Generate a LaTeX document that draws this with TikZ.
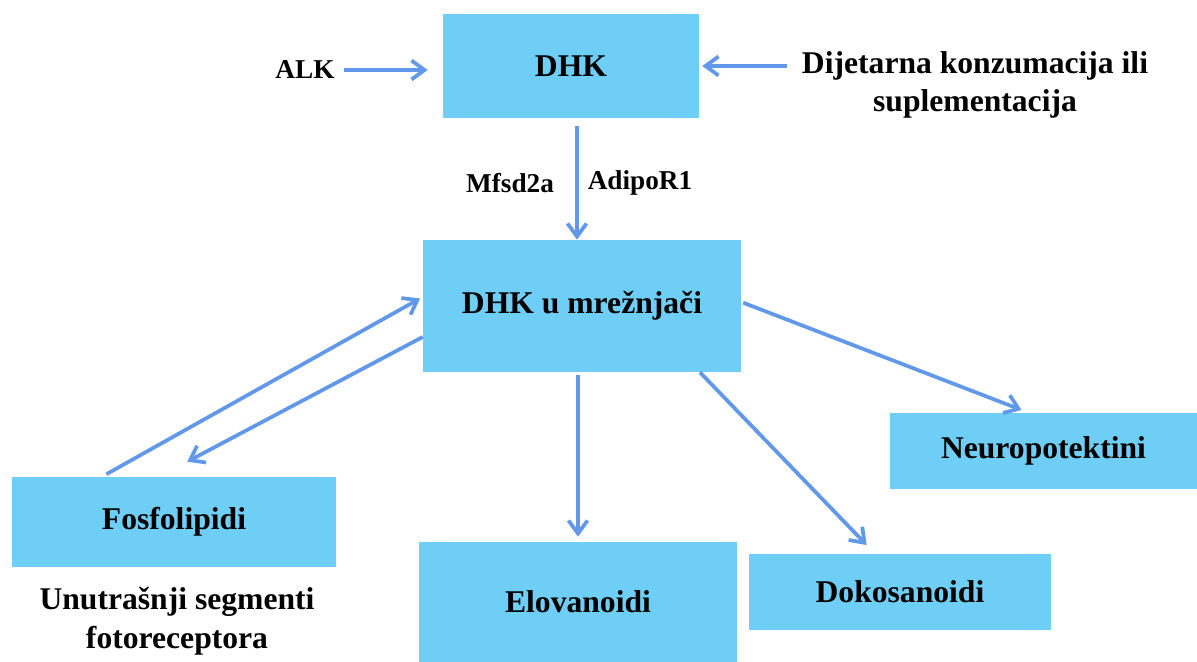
\documentclass[tikz,border=0pt]{standalone}
\usepackage{fontspec}
\setmainfont{Liberation Serif}
\usepackage{xcolor}
\usetikzlibrary{arrows.meta}

\definecolor{boxblue}{RGB}{110,206,245}
\definecolor{arrowblue}{RGB}{98,152,234}

\tikzset{
  box/.style={fill=boxblue, inner sep=0pt, font=\fontsize{18}{22}\selectfont\bfseries},
  lbl/.style={inner sep=0pt, align=center, font=\fontsize{18}{22}\selectfont\bfseries},
  small/.style={inner sep=0pt, font=\fontsize{15.5}{19}\selectfont\bfseries},
  arr/.style={-{Straight Barb[length=0.26cm, width=0.38cm]}, arrowblue, line width=0.075cm}
}

\begin{document}
\begin{tikzpicture}[x=0.02cm, y=-0.02cm]
  \useasboundingbox (0,0) rectangle (1197,662);
  % boxes
  \node[box, minimum width=5.12cm, minimum height=2.08cm] (dhk) at (571,66) {DHK};
  \node[box, minimum width=6.36cm, minimum height=2.64cm] (mreza) at (582,306) {DHK u mrežnjači};
  \node[box, minimum width=6.48cm, minimum height=1.80cm] (fosf) at (174,522) {Fosfolipidi};
  \node[box, minimum width=6.36cm, minimum height=2.40cm] (elov) at (578,602) {Elovanoidi};
  \node[box, minimum width=6.04cm, minimum height=1.52cm] (dokos) at (900,592) {Dokosanoidi};
  \node[box, minimum width=6.14cm, minimum height=1.52cm] (neuro) at (1043.5,451) {Neuropotektini};
  % labels
  \node[lbl, font=\fontsize{15.5}{19}\selectfont\bfseries] (alk) at (305,70) {ALK};
  \node[lbl] (diet) at (975,85) {Dijetarna konzumacija ili\\suplementacija};
  \node[small] (mfsd) at (510,183) {Mfsd2a};
  \node[small] (adipo) at (640,183) {AdipoR1};
  \node[lbl] (unutr) at (177,621) {Unutrašnji segmenti\\fotoreceptora};
  % arrows
  \draw[arr, shorten <=0.18cm, shorten >=0.3cm] (alk.east) -- (alk.east -| dhk.west);
  \draw[arr, shorten <=0.3cm, shorten >=0.06cm] (diet.west |- dhk.east) -- (dhk.east);
  \draw[arr, shorten <=0.16cm] ([xshift=0.12cm]dhk.south) -- ([xshift=0.12cm]dhk.south |- mreza.north);
  \draw[arr, shorten <=0.06cm, shorten >=0.1cm] (elov.north |- mreza.south) -- (elov.north);
  \draw[arr, shorten >=0.24cm] ([xshift=2.36cm]mreza.south) -- ([xshift=-0.5cm]dokos.north);
  \draw[arr, shorten <=0.04cm, shorten >=0.15cm] ([yshift=0.08cm]mreza.east) -- ([xshift=-0.3cm]neuro.north);
  \draw[arr, shorten <=0.1cm, shorten >=0.06cm] ([xshift=-1.44cm]fosf.north) -- ([yshift=0.18cm]mreza.west);
  \draw[arr, shorten >=0.64cm] ([yshift=-0.62cm]mreza.west) -- ([xshift=-0.3cm]fosf.north);
\end{tikzpicture}
\end{document}
